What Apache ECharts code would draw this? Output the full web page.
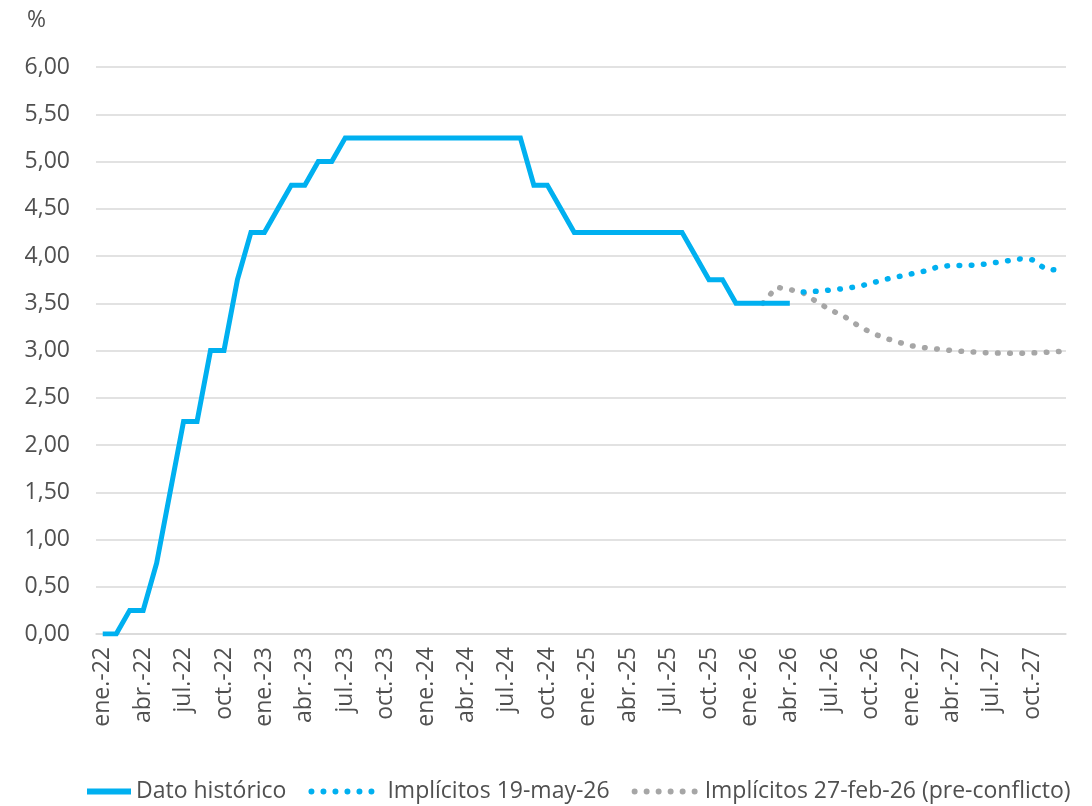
<!DOCTYPE html>
<html>
<head>
<meta charset="utf-8">
<script src="https://cdn.jsdelivr.net/npm/echarts@6/dist/echarts.min.js"></script>
<style>
html,body{margin:0;padding:0;background:#fff;}
#c{width:1092px;height:806px;}
</style>
</head>
<body>
<div id="c"></div>
<script>
// Month labels (ene.-22 ... dic.-27)
const monthNames = ['ene.','feb.','mar.','abr.','may.','jun.','jul.','ago.','sep.','oct.','nov.','dic.'];
const years = ['22','23','24','25','26','27'];
const categories = [];
years.forEach(y => monthNames.forEach(m => categories.push(m + '-' + y)));

const yTicks = [0, 0.5, 1, 1.5, 2, 2.5, 3, 3.5, 4, 4.5, 5, 5.5, 6];

// Dato histórico: ene.-22 .. abr.-26
const historico = [
  0, 0, 0.25, 0.25, 0.75, 1.5, 2.25, 2.25, 3.0, 3.0, 3.75, 4.25,
  4.25, 4.5, 4.75, 4.75, 5.0, 5.0, 5.25, 5.25, 5.25, 5.25, 5.25, 5.25,
  5.25, 5.25, 5.25, 5.25, 5.25, 5.25, 5.25, 5.25, 4.75, 4.75, 4.5, 4.25,
  4.25, 4.25, 4.25, 4.25, 4.25, 4.25, 4.25, 4.25, 4.0, 3.75, 3.75, 3.5,
  3.5, 3.5, 3.5, 3.5
];

// Implícitos 19-may-26: may.-26 .. dic.-27
const implicitosMayStart = 'may.-26';
const implicitosMay = [
  3.62, 3.627, 3.64, 3.655, 3.675, 3.71, 3.75, 3.78,
  3.81, 3.84, 3.885, 3.90, 3.90, 3.905, 3.925, 3.945, 3.97, 3.96, 3.86, 3.85
];

// Implícitos 27-feb-26 (pre-conflicto): feb.-26 .. dic.-27
const implicitosFebStart = 'feb.-26';
const implicitosFeb = [
  3.50, 3.67, 3.645, 3.61, 3.515, 3.43, 3.365, 3.27, 3.19, 3.135, 3.09,
  3.05, 3.03, 3.015, 3.00, 2.99, 2.98, 2.975, 2.97, 2.97, 2.975, 2.98, 2.99
];

function pad(startLabel, values) {
  const start = categories.indexOf(startLabel);
  const out = categories.map(() => null);
  values.forEach((v, i) => { out[start + i] = v; });
  return out;
}

// legend icon made of round dots
function dotsIcon(n, step, r) {
  let p = '';
  for (let i = 0; i < n; i++) {
    const cx = r + i * step;
    p += 'M' + (cx - r) + ',' + r + ' a' + r + ',' + r + ' 0 1,0 ' + (2 * r) + ',0 a' + r + ',' + r + ' 0 1,0 ' + (-2 * r) + ',0 Z ';
  }
  return 'path://' + p;
}

const BLUE = '#00B0F0';
const GRAY = '#A6A6A6';
const TXT = '#505050';
const FONT = 'Open Sans';
const FS = 23;

const chart = echarts.init(document.getElementById('c'), null, {renderer: 'canvas'});
chart.setOption({
  animation: false,
  backgroundColor: '#ffffff',
  textStyle: {fontFamily: FONT, color: TXT},
  title: {
    text: '%', left: 22, top: 4,
    textStyle: {fontFamily: FONT, fontSize: FS, fontWeight: 'normal', color: TXT}
  },
  grid: {left: 96, right: 26, top: 67, bottom: 172, containLabel: false},
  xAxis: {
    type: 'category',
    data: categories,
    boundaryGap: true,
    axisLine: {show: true, lineStyle: {color: '#D9D9D9', width: 1.5}},
    axisTick: {show: false},
    axisLabel: {
      interval: 2, rotate: 90, margin: 13,
      fontFamily: FONT, fontSize: FS, color: TXT
    },
    splitLine: {show: false}
  },
  yAxis: {
    type: 'value',
    min: yTicks[0], max: yTicks[yTicks.length - 1], interval: 0.5,
    axisLine: {show: false},
    axisTick: {show: false},
    axisLabel: {
      margin: 26, fontFamily: FONT, fontSize: FS, color: TXT,
      formatter: v => v.toFixed(2).replace('.', ',')
    },
    splitLine: {lineStyle: {color: '#D9D9D9', width: 1.5}}
  },
  legend: {
    bottom: -2, left: 60,
    itemWidth: 66, itemHeight: 6, itemGap: 22,
    textStyle: {fontFamily: FONT, fontSize: FS, color: TXT},
    data: [
      {name: 'Dato histórico', icon: 'path://M0,0 M22,0 L66,0 L66,6 L22,6 Z', itemStyle: {color: BLUE}},
      {name: 'Implícitos 19-may-26', icon: dotsIcon(6, 12, 3), itemStyle: {color: BLUE},
       textStyle: {padding: [0, 0, 0, 8]}},
      {name: 'Implícitos 27-feb-26 (pre-conflicto)', icon: dotsIcon(6, 12, 3), itemStyle: {color: GRAY},
       textStyle: {padding: [0, 0, 0, 2]}}
    ]
  },
  series: [
    {
      name: 'Dato histórico', type: 'line',
      data: historico,
      showSymbol: false, symbol: 'none',
      lineStyle: {color: BLUE, width: 5, join: 'miter'},
      itemStyle: {color: BLUE},
      z: 3
    },
    {
      name: 'Implícitos 19-may-26', type: 'line',
      data: pad(implicitosMayStart, implicitosMay),
      showSymbol: false, symbol: 'none',
      lineStyle: {color: BLUE, width: 5.5, type: [0.6, 11.6], cap: 'round'},
      itemStyle: {color: BLUE},
      z: 4
    },
    {
      name: 'Implícitos 27-feb-26 (pre-conflicto)', type: 'line',
      data: pad(implicitosFebStart, implicitosFeb),
      showSymbol: false, symbol: 'none',
      lineStyle: {color: GRAY, width: 5.5, type: [0.6, 11.6], cap: 'round'},
      itemStyle: {color: GRAY},
      z: 2
    }
  ]
});
</script>
</body>
</html>
